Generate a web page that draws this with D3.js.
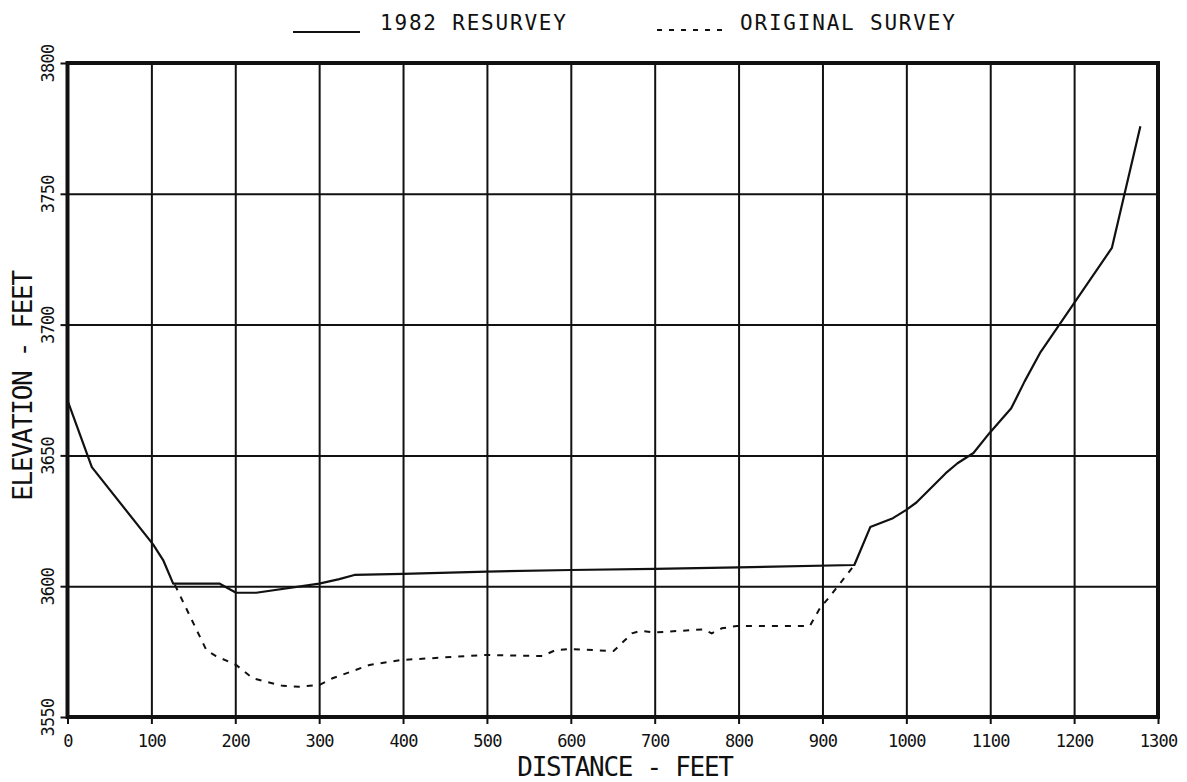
<!DOCTYPE html>
<html>
<head>
<meta charset="utf-8">
<script src="https://cdn.jsdelivr.net/npm/d3@7"></script>
<style>
  body { margin: 0; background: #fff; }
  text { font-family: "DejaVu Sans Mono", monospace; fill: #111; }
</style>
</head>
<body>
<div id="chart"></div>
<script>
// 1982 resurvey cross section (distance ft, elevation ft)
var resurveyDist = [0, 29, 102, 114, 126, 165, 181, 201, 225, 300, 324, 342, 400, 500, 600, 700, 800, 938, 957, 984, 1000, 1012, 1047, 1061, 1080, 1099, 1125, 1141, 1160, 1245, 1279];
var resurveyElev = [3671, 3645.5, 3616, 3610, 3601, 3601, 3601, 3597.5, 3597.5, 3601, 3602.7, 3604.3, 3604.7, 3605.6, 3606.2, 3606.6, 3607.2, 3608.1, 3622.6, 3626, 3629.2, 3632, 3643.2, 3647, 3650.9, 3658.5, 3668, 3678.3, 3689.5, 3729.3, 3775.8];

// original survey (dashed)
var originalDist = [128, 165.5, 177, 201, 221, 256.6, 276.5, 300, 316, 360, 398, 498, 566, 582, 600, 651, 673, 683, 700, 758, 768, 780, 798, 885, 897, 907, 921, 938];
var originalElev = [3600.5, 3575.6, 3573.3, 3569.9, 3564.8, 3561.9, 3561.6, 3562.2, 3564.8, 3569.9, 3571.8, 3573.7, 3573.3, 3575.6, 3576, 3575.2, 3582, 3582.9, 3582.3, 3583.5, 3582, 3583.9, 3584.8, 3584.8, 3591.6, 3595.4, 3601.1, 3608.1];

var xTicks = [0, 100, 200, 300, 400, 500, 600, 700, 800, 900, 1000, 1100, 1200, 1300];
var yTicks = [3550, 3600, 3650, 3700, 3750, 3800];

var W = 1187, H = 782;
var margin = { top: 63, right: 29, bottom: 65, left: 67.5 };
var width = W - margin.left - margin.right;
var height = H - margin.top - margin.bottom;

var x_scale = d3.scaleLinear().domain([0, 1300]).range([0, width]);
var y_scale = d3.scaleLinear().domain([3550, 3800]).range([height, 0]);

var svg = d3.select('#chart').append('svg')
    .attr('width', W)
    .attr('height', H);

var g = svg.append('g')
    .attr('transform', 'translate(' + margin.left + ',' + margin.top + ')');

// grid lines
g.append('g')
    .attr('class', 'gridx')
    .attr('transform', 'translate(0,' + height + ')')
    .call(d3.axisBottom(x_scale).tickValues(xTicks).tickSize(-height).tickFormat(''))
    .call(function(s) { s.select('.domain').remove(); })
    .selectAll('line').attr('stroke', '#111').attr('stroke-width', 2);

g.append('g')
    .attr('class', 'gridy')
    .call(d3.axisLeft(y_scale).tickValues(yTicks).tickSize(-width).tickFormat(''))
    .call(function(s) { s.select('.domain').remove(); })
    .selectAll('line').attr('stroke', '#111').attr('stroke-width', 2);

// bottom axis: short outside ticks + labels
var xAxis = g.append('g')
    .attr('transform', 'translate(0,' + height + ')')
    .call(d3.axisBottom(x_scale).tickValues(xTicks).tickSize(7).tickFormat(d3.format('d')));
xAxis.select('.domain').remove();
xAxis.selectAll('line').attr('stroke', '#111').attr('stroke-width', 2);
xAxis.selectAll('text')
    .attr('y', 29.5)
    .attr('dy', null)
    .style('font-size', '17px')
    .style('letter-spacing', '-0.8px')
    .style('fill', '#111');

// left axis: ticks + rotated labels
var yAxis = g.append('g')
    .call(d3.axisLeft(y_scale).tickValues(yTicks).tickSize(7).tickFormat(d3.format('d')));
yAxis.select('.domain').remove();
yAxis.selectAll('line').attr('stroke', '#111').attr('stroke-width', 2);
yAxis.selectAll('text')
    .attr('transform', 'rotate(-90)')
    .attr('x', 0)
    .attr('y', -14)
    .attr('dy', null)
    .attr('text-anchor', 'middle')
    .style('font-size', '17px')
    .style('letter-spacing', '-0.8px')
    .style('fill', '#111');

// heavy frame
g.append('rect')
    .attr('x', 0).attr('y', 0)
    .attr('width', width).attr('height', height)
    .attr('fill', 'none')
    .attr('stroke', '#111')
    .attr('stroke-width', 4);

// survey lines
var line = d3.line()
    .x(function(d) { return x_scale(d[0]); })
    .y(function(d) { return y_scale(d[1]); });

g.append('path')
    .datum(d3.zip(originalDist, originalElev))
    .attr('d', line)
    .attr('fill', 'none')
    .attr('stroke', '#111')
    .attr('stroke-width', 2)
    .attr('stroke-dasharray', '6,7');

g.append('path')
    .datum(d3.zip(resurveyDist, resurveyElev))
    .attr('d', line)
    .attr('fill', 'none')
    .attr('stroke', '#111')
    .attr('stroke-width', 2.2)
    .attr('stroke-linejoin', 'round');

// axis titles
svg.append('text')
    .attr('x', 625)
    .attr('y', 776)
    .attr('text-anchor', 'middle')
    .style('font-size', '26px')
    .style('letter-spacing', '-1.3px')
    .text('DISTANCE - FEET');

svg.append('text')
    .attr('transform', 'translate(31.5,386)rotate(-90)')
    .attr('text-anchor', 'middle')
    .style('font-size', '26px')
    .style('letter-spacing', '-1.3px')
    .text('ELEVATION - FEET');

// legend
svg.append('line')
    .attr('x1', 293).attr('x2', 360)
    .attr('y1', 32).attr('y2', 32)
    .attr('stroke', '#111').attr('stroke-width', 2);
svg.append('text')
    .attr('x', 380).attr('y', 30)
    .style('font-size', '21px')
    .style('letter-spacing', '1.8px')
    .text('1982 RESURVEY');

svg.append('line')
    .attr('x1', 657).attr('x2', 722)
    .attr('y1', 30).attr('y2', 30)
    .attr('stroke', '#111').attr('stroke-width', 2)
    .attr('stroke-dasharray', '5,7');
svg.append('text')
    .attr('x', 740).attr('y', 30)
    .style('font-size', '21px')
    .style('letter-spacing', '1.8px')
    .text('ORIGINAL SURVEY');
</script>
</body>
</html>
